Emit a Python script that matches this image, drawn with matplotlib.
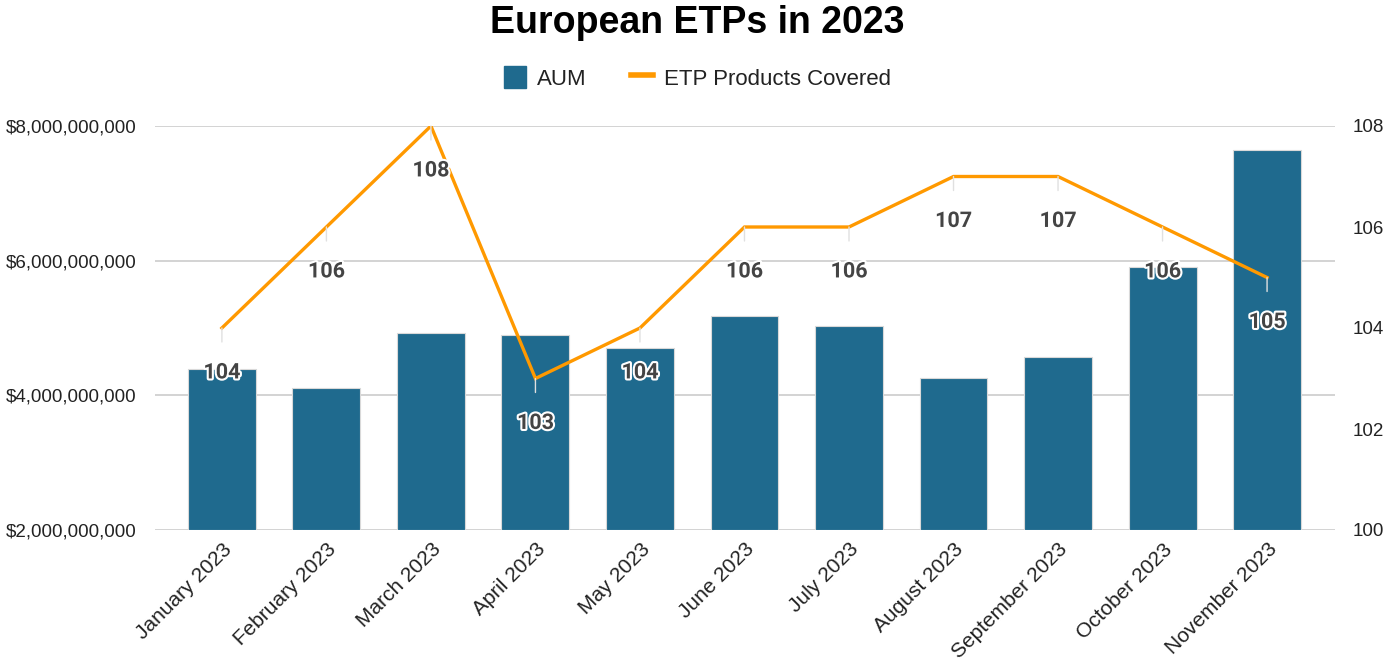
import matplotlib
matplotlib.use("Agg")
import matplotlib.pyplot as plt
import matplotlib.patheffects as pe
from matplotlib.patches import Patch
from matplotlib.lines import Line2D
from matplotlib.ticker import FuncFormatter

months = ["January 2023", "February 2023", "March 2023", "April 2023", "May 2023",
          "June 2023", "July 2023", "August 2023", "September 2023", "October 2023",
          "November 2023"]
aum = [4.39e9, 4.11e9, 4.93e9, 4.90e9, 4.70e9, 5.18e9, 5.03e9, 4.26e9, 4.57e9, 5.91e9, 7.64e9]
products = [104, 106, 108, 103, 104, 106, 106, 107, 107, 106, 105]

BAR = "#1f6a8e"
ORANGE = "#ff9900"
plt.rcParams['font.family'] = ['Liberation Sans', 'DejaVu Sans']

fig = plt.figure(figsize=(13.95, 6.72), dpi=100)
ax = fig.add_axes([155/1395, 1-530/672, (1335-155)/1395, (530-126)/672])
x = list(range(len(months)))
ax.bar(x, [a - 2e9 for a in aum], bottom=2e9, width=0.65, color=BAR,
       edgecolor="#d9d9d9", linewidth=0.8, zorder=2)
ax.set_ylim(2e9, 8e9)
ax.set_xlim(-0.64, 10.65)
ax.set_yticks([2e9, 4e9, 6e9, 8e9])
ax.yaxis.set_major_formatter(FuncFormatter(lambda v, p: "${:,.0f}".format(v)))
ax.grid(axis='y', color="#cccccc", linewidth=1.2, zorder=0)
ax.set_axisbelow(True)
for s in ax.spines.values():
    s.set_visible(False)
ax.tick_params(axis='y', length=0, pad=13, labelsize=13.5, labelcolor="#222222")
ax.tick_params(axis='x', length=0, pad=7, labelsize=15, labelcolor="#222222")
ax.set_xticks(x)
ax.set_xticklabels(months, rotation=45, ha='right', rotation_mode='anchor')

ax2 = ax.twinx()
ax2.set_ylim(100, 108)
ax2.set_yticks([100, 102, 104, 106, 108])
ax2.tick_params(axis='y', length=0, pad=13, labelsize=13.5, labelcolor="#222222")
for s in ax2.spines.values():
    s.set_visible(False)
ax2.plot(x, products, color=ORANGE, linewidth=2.4, zorder=3, solid_joinstyle='miter')
for xi, v in zip(x, products):
    ax2.annotate(str(v), xy=(xi, v), xytext=(0, -32), textcoords='offset points',
                 ha='center', va='center', fontsize=15.5, fontweight='bold',
                 family=['Roboto', 'DejaVu Sans'], color="#444444", zorder=5,
                 path_effects=[pe.withStroke(linewidth=3, foreground='white')],
                 arrowprops=dict(arrowstyle='-', color='#e0e0e0', lw=1,
                                 shrinkA=12, shrinkB=0))

fig.text(0.5, 1-23/672, "European ETPs in 2023", ha='center', va='center',
         fontsize=27, fontweight='bold', color='black')
handles = [Patch(facecolor=BAR, edgecolor=BAR), Line2D([0], [0], color=ORANGE, lw=4)]
fig.legend(handles, ["AUM", "ETP Products Covered"], loc='center', ncol=2,
           bbox_to_anchor=(0.5, 1-78/672), frameon=False, fontsize=16,
           handlelength=1.0, handleheight=1.1, columnspacing=2.0, handletextpad=0.5,
           labelcolor="#222222")
fig.savefig("out.png", dpi=100)
